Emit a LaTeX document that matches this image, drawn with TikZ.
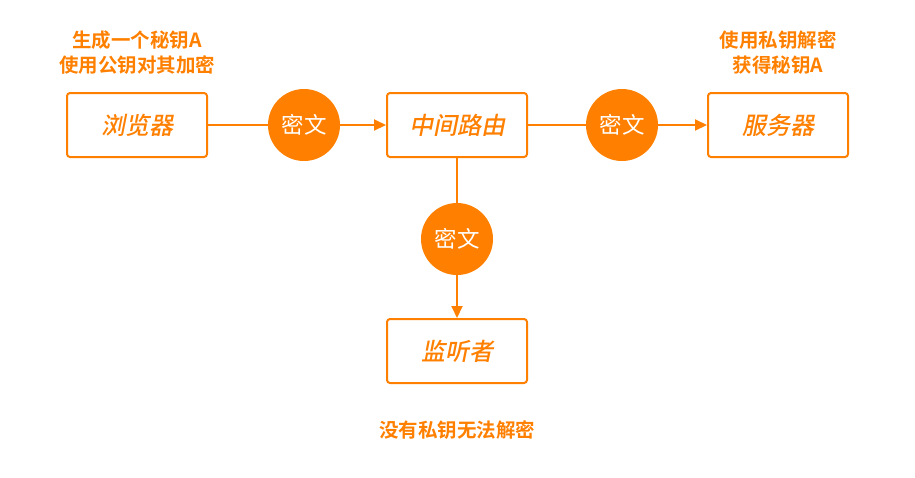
\documentclass[tikz,border=0pt]{standalone}
\usepackage{fontspec}
\setmainfont{Noto Sans CJK SC}
\newfontfamily\cjkbold{Noto Sans CJK SC Bold}
\newfontfamily\cjkslant[FakeSlant=0.2]{Noto Sans CJK SC Medium}
\usetikzlibrary{arrows.meta}
\definecolor{org}{HTML}{FF8000}
\begin{document}
\begin{tikzpicture}[x=1pt,y=-1pt,
  box/.style={draw=org,line width=2pt,rounded corners=3pt,minimum width=140pt,minimum height=64pt,fill=white,text=org,font=\cjkslant\fontsize{24}{26}\selectfont},
  cipher/.style={circle,fill=org,minimum size=72pt,inner sep=0pt,text=white,font=\fontsize{22.5}{26}\selectfont},
  note/.style={text=org,align=center,font=\cjkbold\fontsize{19.5}{25}\selectfont},
  conn/.style={draw=org,line width=2pt},
  arr/.style={conn,-{Triangle[length=12pt,width=11pt]}}]
\useasboundingbox (0,0) rectangle (915,477);
\node[box] (browser) at (137,125) {浏览器};
\node[box] (router) at (457,125) {中间路由};
\node[box] (server) at (778,125) {服务器};
\node[box] (spy) at (457,351) {监听者};
\node[cipher] (c1) at (304,125) {密文};
\node[cipher] (c2) at (622,125) {密文};
\node[cipher] (c3) at (457,239) {密文};
\draw[conn] (browser) -- (c1);
\draw[arr] (c1) -- (router);
\draw[conn] (router) -- (c2);
\draw[arr] (c2) -- (server);
\draw[conn] (router) -- (c3);
\draw[arr] (c3) -- (spy);
\node[note] (n1) at (137,53) {生成一个秘钥A\\使用公钥对其加密};
\node[note] (n2) at (778,53) {使用私钥解密\\获得秘钥A};
\node[note] (n3) at (457,430) {没有私钥无法解密};
\end{tikzpicture}
\end{document}
